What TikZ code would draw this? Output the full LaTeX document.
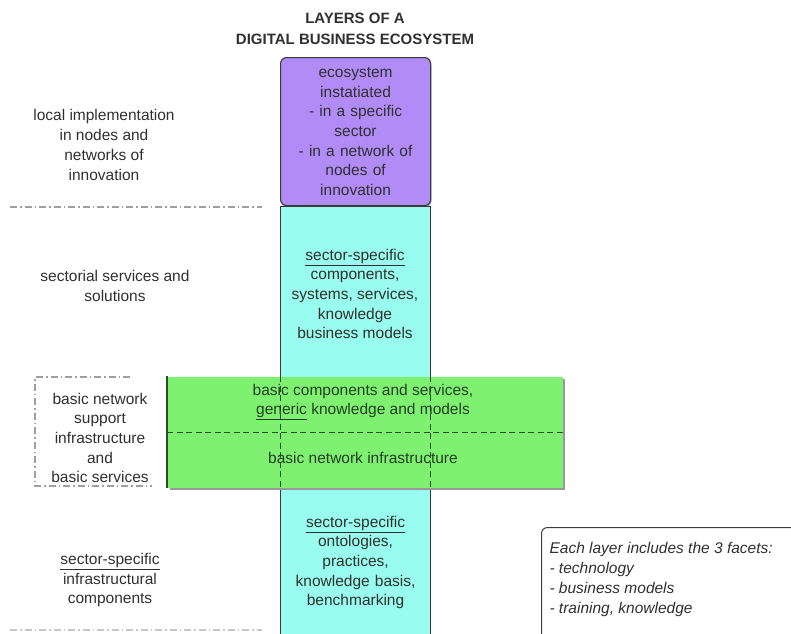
\documentclass[tikz,border=0pt]{standalone}
\usepackage{fontspec}
\setmainfont{Liberation Sans}
\usetikzlibrary{positioning}
\definecolor{layerpurple}{RGB}{178,140,246}
\definecolor{layercyan}{RGB}{152,252,238}
\definecolor{layergreen}{RGB}{126,242,112}
\definecolor{edgegray}{RGB}{58,58,58}
\definecolor{edgegreen}{RGB}{40,80,40}
\definecolor{txtgray}{RGB}{48,48,48}
\definecolor{txtgreen}{RGB}{36,62,36}
\newcommand{\layerfont}{\fontsize{15.5}{19.7}\selectfont}
\tikzstyle{column}   = [draw=edgegray, line width=1.1pt, text=txtgray,
                         minimum width=150pt, text width=142pt, align=center,
                         anchor=north west, font=\layerfont]
\tikzstyle{sidelabel}= [text=txtgray, align=center, font=\layerfont]
\tikzstyle{divider}  = [gray!75, line width=1.1pt,
                         dash pattern=on 7pt off 3pt on 1.5pt off 3pt]
\tikzstyle{greendash}= [edgegreen, line width=1pt, dash pattern=on 6pt off 3.5pt]

\begin{document}
\begin{tikzpicture}[x=1pt, y=-1pt]
  \useasboundingbox (0,0) rectangle (791,633);

  % title
  \node[font=\fontsize{15}{21}\selectfont\bfseries, text=txtgray, align=center] (title)
    at (355,29) {LAYERS OF A\\DIGITAL BUSINESS ECOSYSTEM};

  % the column of layers
  \fill[black!35, rounded corners=6pt] (281.5,59) rectangle (431.5,207);
  \node[column, fill=layerpurple, rounded corners=6pt, minimum height=148pt] (eco) at (280,57)
    {ecosystem\\instatiated\\- in a specific\\sector\\- in a network of\\nodes of\\innovation};
  \node[column, fill=layercyan, minimum height=175pt, below=0pt of eco, anchor=north] (svc) {};
  \node[column, fill=layercyan, minimum height=150pt] (onto) at (280,487)
    {\underline{sector-specific}\\ontologies,\\practices,\\knowledge basis,\\benchmarking};
  \node[text=txtgray, align=center, font=\layerfont] (svctext) at (355,294)
    {\underline{sector-specific}\\components,\\systems, services,\\knowledge\\business models};

  % basic network band across the column
  \fill[black!40] (169.5,378.5) rectangle (564.5,489.5);
  \node[greendash, fill=layergreen, anchor=north west,
        minimum width=395pt, minimum height=111pt] (basic) at (167,376) {};
  \draw[edgegreen, line width=1.1pt] (basic.north west) -- (basic.south west);
  \draw[greendash] (basic.west |- 0,432) -- (basic.east |- 0,432);
  \draw[greendash, line width=0.8pt] (280,376) -- (280,487);
  \draw[greendash, line width=0.8pt] (430,376) -- (430,487);
  \node[text=txtgreen, align=center, font=\fontsize{15.5}{18.5}\selectfont] (generic) at (363,402)
    {basic components and services,\\\underline{generic} knowledge and models};
  \node[text=txtgreen, font=\layerfont] (netinfra) at (363,458) {basic network infrastructure};

  % labels on the left
  \node[sidelabel] (local) at (104,145)
    {local implementation\\in nodes and\\networks of\\innovation};
  \node[sidelabel] (sectorial) at (115,286) {sectorial services and\\solutions};
  \node[sidelabel] (support) at (100,438)
    {basic network\\support\\infrastructure\\and\\basic services};
  \node[sidelabel] (infra) at (110,580)
    {\underline{sector-specific}\\infrastructural\\components};

  % dash-dot separators
  \draw[divider] (10,207) -- (262,207);
  \draw[divider] (130,377) -- (35,377) -- (35,486) -- (152,486);
  \draw[divider, gray!45] (10,630) -- (262,630);

  % facets note
  \node[draw=edgegray, line width=1pt, rounded corners=6pt, anchor=north west,
        minimum width=260pt, minimum height=115pt] (note) at (541,527) {};
  \node[text=txtgray, anchor=north west, align=left,
        font=\fontsize{15.5}{20}\selectfont\itshape] (facets) at (546,539)
    {Each layer includes the 3 facets:\\- technology\\- business models\\- training, knowledge};
\end{tikzpicture}
\end{document}
